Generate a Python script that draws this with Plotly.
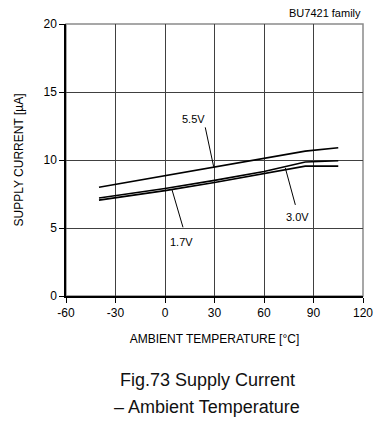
import plotly.graph_objects as go

temps = [-40, 0, 30, 60, 85, 105]
i_55 = [8.0, 8.85, 9.5, 10.1, 10.65, 10.9]
i_30 = [7.2, 7.9, 8.5, 9.15, 9.85, 9.95]
i_17 = [7.05, 7.75, 8.35, 9.0, 9.55, 9.55]

x_ticks = [-60, -30, 0, 30, 60, 90, 120]
x_tick_labels = ["-60", "-30", "0", "30", "60", "90", "120"]
y_ticks = [0, 5, 10, 15, 20]

FONT = "Arial, Liberation Sans, sans-serif"

fig = go.Figure()
for ys in (i_55, i_30, i_17):
    fig.add_trace(go.Scatter(x=temps, y=ys, mode="lines",
                             line=dict(color="black", width=1.6),
                             showlegend=False, hoverinfo="skip"))

# leader lines and labels
leaders = [
    ("5.5V", (24.4, 12.4), (29.5, 9.5), (17, 13.0)),
    ("3.0V", (79, 6.7), (72.9, 9.42), (80.5, 5.8)),
    ("1.7V", (10.9, 5.05), (4.2, 7.83), (10.2, 4.0)),
]
for txt, p0, p1, tp in leaders:
    fig.add_shape(type="line", x0=p0[0], y0=p0[1], x1=p1[0], y1=p1[1],
                  xref="x", yref="y", line=dict(color="black", width=1))
    fig.add_annotation(x=tp[0], y=tp[1], text=txt, showarrow=False,
                       xref="x", yref="y", font=dict(family=FONT, size=11, color="black"))

# gray top/right border
fig.add_shape(type="rect", x0=0, x1=1, y0=0, y1=1, xref="paper", yref="paper",
              line=dict(color="#8a8a8a", width=1.5), layer="below")

fig.add_annotation(x=1, y=1, xref="paper", yref="paper", xanchor="right", yanchor="bottom",
                   yshift=3, text="BU7421 family", showarrow=False,
                   font=dict(family=FONT, size=11, color="black"))
fig.add_annotation(x=0.475, y=-0.309, xref="paper", yref="paper", xanchor="center", yanchor="middle",
                   text="Fig.73 Supply Current", showarrow=False,
                   font=dict(family=FONT, size=18, color="#111"))
fig.add_annotation(x=0.475, y=-0.408, xref="paper", yref="paper", xanchor="center", yanchor="middle",
                   text="– Ambient Temperature", showarrow=False,
                   font=dict(family=FONT, size=18, color="#111"))

fig.update_layout(
    width=375, height=421,
    margin=dict(l=66, r=12, t=24, b=125),
    paper_bgcolor="white", plot_bgcolor="white",
    font=dict(family=FONT, size=12, color="black"),
    xaxis=dict(range=[-60, 120], tickvals=x_ticks, ticktext=x_tick_labels,
               ticks="outside", ticklen=5, automargin=False,
               tickcolor="black", showline=True, linecolor="black", linewidth=1.5,
               showgrid=True, gridcolor="#404040", gridwidth=1, zeroline=False,
               title=dict(text="AMBIENT TEMPERATURE [°C]", font=dict(size=12), standoff=15)),
    yaxis=dict(range=[0, 20], tickvals=y_ticks, ticks="outside", ticklen=5, automargin=False,
               tickcolor="black", showline=True, linecolor="black", linewidth=1.5,
               showgrid=True, gridcolor="#404040", gridwidth=1, zeroline=False,
               title=dict(text="SUPPLY CURRENT [µA]", font=dict(size=12), standoff=17)),
)

fig.write_html(
    "out.html",
    config={"displayModeBar": False},
    post_script="document.body.style.margin='0';document.body.style.overflow='hidden';",
)
